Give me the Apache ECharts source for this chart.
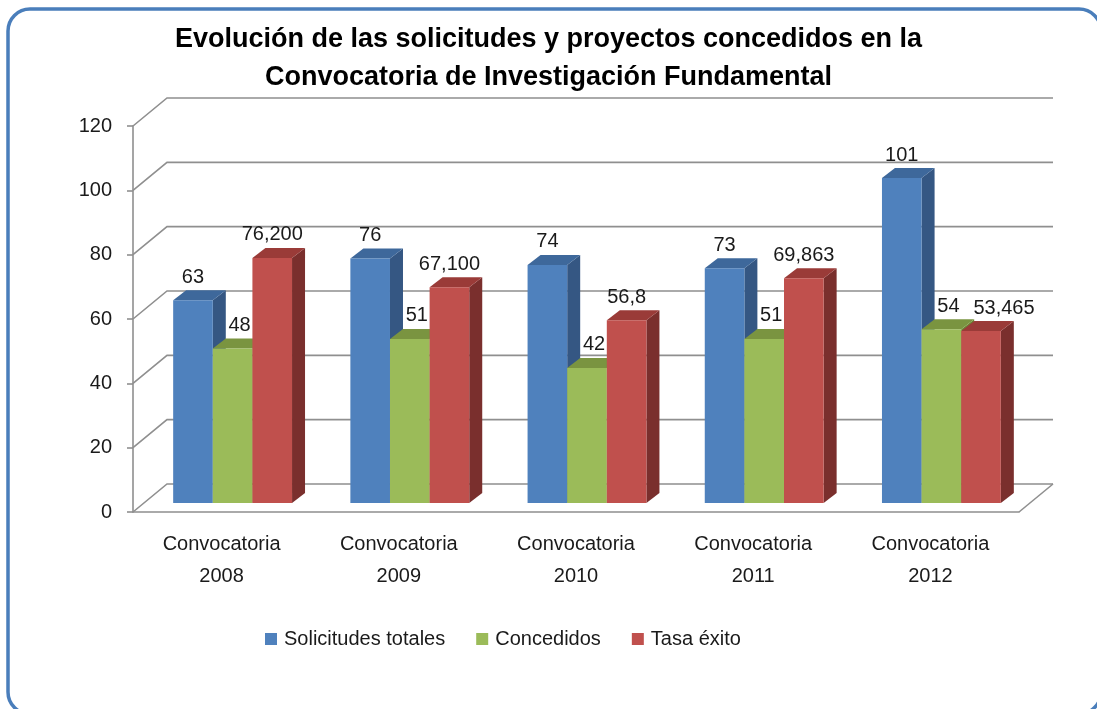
<!DOCTYPE html>
<html>
<head>
<meta charset="utf-8">
<script src="https://cdn.jsdelivr.net/npm/echarts@6/dist/echarts.min.js"></script>
<style>
  html, body { margin: 0; padding: 0; background: #fff; overflow: hidden; }
  #chart { width: 1097px; height: 709px; }
</style>
</head>
<body>
<div id="chart"></div>
<script>
// datos
const categories = ["Convocatoria\n2008", "Convocatoria\n2009", "Convocatoria\n2010", "Convocatoria\n2011", "Convocatoria\n2012"];
const solicitudes = [63, 76, 74, 73, 101];
const concedidos = [48, 51, 42, 51, 54];
const tasa = [76.2, 67.1, 56.8, 69.863, 53.465];
const tasaLabels = ["76,200", "67,100", "56,8", "69,863", "53,465"];
const yTicks = [0, 20, 40, 60, 80, 100, 120];

const FONT = "'Liberation Sans', Arial, sans-serif";

// desplazamientos del efecto 3D
const WALL_DX = 34, WALL_DY = -28;   // pared del fondo
const BAR_DX = 11, BAR_DY = -9;      // plano frontal de las barras
const SIDE_DX = 13, SIDE_DY = -10;   // profundidad de cada barra

const colors = [
  { front: "#4f81bd", top: "#3e689b", side: "#355783" },
  { front: "#9bbb59", top: "#7a9440", side: "#6b8633" },
  { front: "#c0504d", top: "#9a3b38", side: "#7a2f2d" },
];

let myChart = echarts.init(document.getElementById("chart"));

// líneas de la pared lateral, del fondo y el suelo
function renderWall(params, api) {
  const v = api.value(1);
  const cs = params.coordSys;
  const y = api.coord([0, v])[1];
  const left = cs.x, right = cs.x + cs.width;
  const style = { stroke: "#8f8f8f", lineWidth: 1.6, fill: null };
  const children = [{
    type: "polyline",
    shape: { points: [[left, y], [left + WALL_DX, y + WALL_DY], [right + WALL_DX, y + WALL_DY]] },
    style: style,
  }];
  if (v === 0) {
    children.push({
      type: "line",
      shape: { x1: right, y1: y, x2: right + WALL_DX, y2: y + WALL_DY },
      style: style,
    });
  }
  return { type: "group", children: children };
}

// barra 3D: cara frontal, lateral, superior y etiqueta
function makeBar(k) {
  return function (params, api) {
    const cat = api.value(0);
    const val = api.value(1);
    const base = api.coord([cat, 0]);
    const top = api.coord([cat, val]);
    const bw = api.size([1, 0])[0] * 0.2236;
    const x0 = base[0] + BAR_DX + (k - 1.5) * bw;
    const x1 = x0 + bw;
    const yb = base[1] + BAR_DY;
    const yt = top[1] + BAR_DY;
    const c = colors[k];

    let text = String(val);
    let lx = x0 + bw / 2;
    if (k === 1) lx += 7;
    if (k === 2) {
      text = tasaLabels[cat];
      // evita solaparse con la etiqueta verde
      if (Math.abs(val - concedidos[cat]) < 6) lx += 23;
    }

    return {
      type: "group",
      children: [
        {
          type: "polygon",
          shape: { points: [[x1, yb], [x1, yt], [x1 + SIDE_DX, yt + SIDE_DY], [x1 + SIDE_DX, yb + SIDE_DY]] },
          style: { fill: c.side },
        },
        {
          type: "polygon",
          shape: { points: [[x0, yt], [x1, yt], [x1 + SIDE_DX, yt + SIDE_DY], [x0 + SIDE_DX, yt + SIDE_DY]] },
          style: { fill: c.top },
        },
        {
          type: "rect",
          shape: { x: x0, y: yt, width: bw, height: yb - yt },
          style: { fill: c.front },
        },
        {
          type: "text",
          style: {
            text: text, x: lx, y: yt - 23,
            align: "center", verticalAlign: "middle",
            font: "20px " + FONT, fill: "#1a1a1a",
          },
        },
      ],
    };
  };
}

function toData(arr) {
  return arr.map((v, i) => [i, v]);
}

myChart.setOption({
  animation: false,
  title: {
    text: "Evolución de las solicitudes y proyectos concedidos en la\nConvocatoria de Investigación Fundamental",
    left: "center",
    top: 21,
    padding: 0,
    textStyle: { fontFamily: FONT, fontSize: 27, fontWeight: "bold", lineHeight: 38, color: "#000" },
  },
  legend: {
    data: ["Solicitudes totales", "Concedidos", "Tasa éxito"],
    left: 260,
    top: 624,
    icon: "rect",
    itemWidth: 12,
    itemHeight: 12,
    itemGap: 31,
    textStyle: { fontFamily: FONT, fontSize: 20, color: "#1a1a1a", padding: [0, 0, 0, 2] },
  },
  grid: { left: 133, right: 78, top: 126, bottom: 197 },
  xAxis: {
    type: "category",
    data: categories,
    axisLine: { lineStyle: { color: "#8f8f8f", width: 1.6 } },
    axisTick: { length: 6, lineStyle: { color: "#8f8f8f", width: 1.6 } },
    axisLabel: { fontFamily: FONT, fontSize: 20, lineHeight: 32, color: "#1a1a1a", margin: 16 },
  },
  yAxis: {
    type: "value",
    min: 0,
    max: 120,
    interval: 20,
    axisLine: { show: true, lineStyle: { color: "#8f8f8f", width: 1.6 } },
    axisTick: { show: true, length: 6, lineStyle: { color: "#8f8f8f", width: 1.6 } },
    axisLabel: { fontFamily: FONT, fontSize: 20, color: "#1a1a1a", margin: 21 },
    splitLine: { show: false },
  },
  graphic: [{
    type: "rect",
    shape: { x: 8, y: 9, width: 1093, height: 705, r: 22 },
    style: { fill: null, stroke: "#4a7ebb", lineWidth: 3.5 },
    silent: true,
  }],
  series: [
    {
      name: "pared",
      type: "custom",
      renderItem: renderWall,
      data: yTicks.map((v) => [0, v]),
      encode: { x: 0, y: 1 },
      silent: true,
      z: 1,
    },
    {
      name: "Solicitudes totales",
      type: "custom",
      renderItem: makeBar(0),
      data: toData(solicitudes),
      encode: { x: 0, y: 1 },
      itemStyle: { color: colors[0].front },
      z: 2,
    },
    {
      name: "Concedidos",
      type: "custom",
      renderItem: makeBar(1),
      data: toData(concedidos),
      encode: { x: 0, y: 1 },
      itemStyle: { color: colors[1].front },
      z: 3,
    },
    {
      name: "Tasa éxito",
      type: "custom",
      renderItem: makeBar(2),
      data: toData(tasa),
      encode: { x: 0, y: 1 },
      itemStyle: { color: colors[2].front },
      z: 4,
    },
  ],
});
</script>
</body>
</html>
